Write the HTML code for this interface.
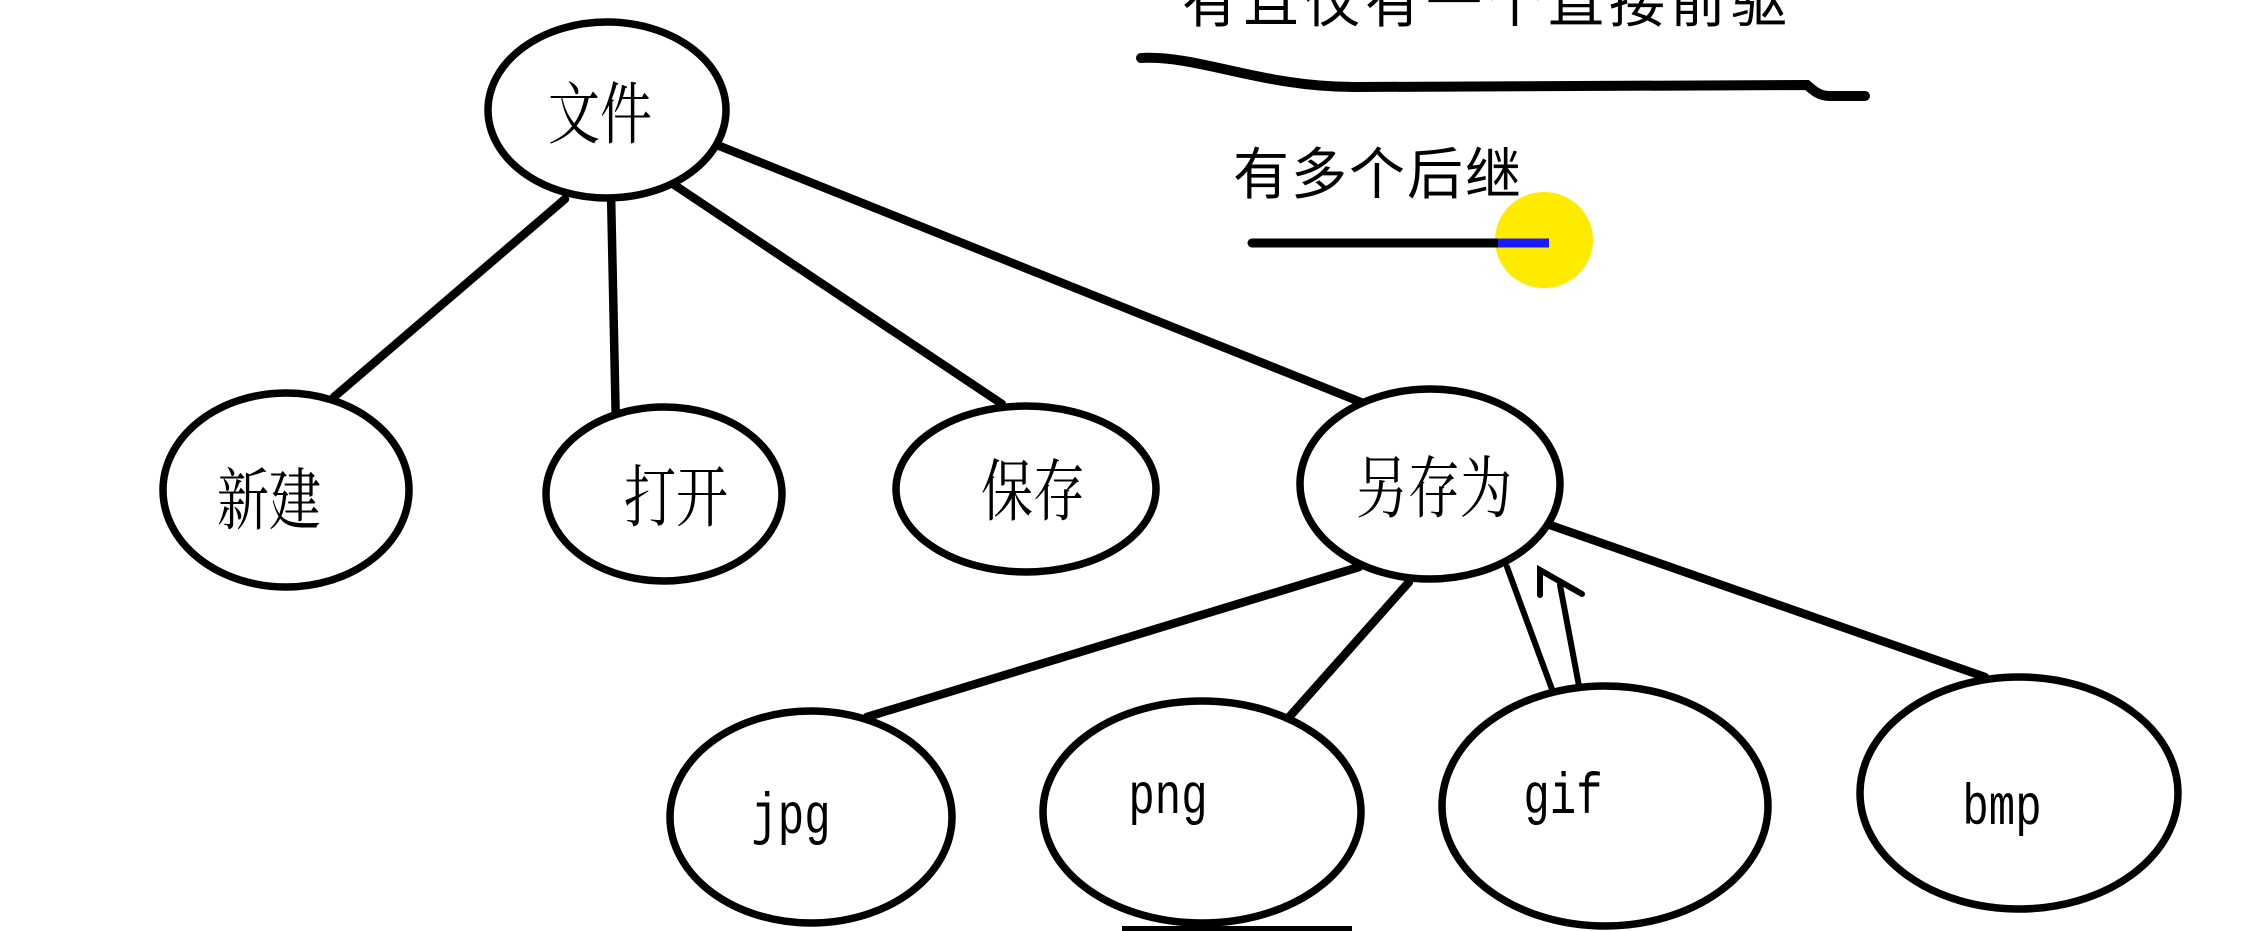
<!DOCTYPE html>
<html><head><meta charset="utf-8"><style>
html,body{margin:0;padding:0;background:#fff;}
svg{display:block;}
.cn{font-family:"Liberation Serif","Noto Serif CJK SC","Noto Sans CJK SC",serif;font-size:52px;fill:#000;text-anchor:middle;dominant-baseline:central;}
.en{font-family:"Liberation Mono",monospace;font-size:44px;fill:#000;text-anchor:middle;dominant-baseline:central;}
.top{font-family:"Liberation Sans","Noto Sans CJK SC",sans-serif;font-size:56px;fill:#000;}
</style></head><body>
<svg width="2255" height="931" viewBox="0 0 2255 931" xmlns="http://www.w3.org/2000/svg">
<rect width="2255" height="931" fill="#fff"/>
<g stroke="#000" stroke-width="8.5" fill="none" stroke-linecap="round">
<line x1="565" y1="199" x2="334" y2="397"/>
<line x1="611" y1="193" x2="616" y2="430"/>
<line x1="664" y1="178" x2="1002" y2="404"/>
<line x1="712" y1="143" x2="1373" y2="407"/>
<line x1="1359" y1="567" x2="867" y2="717"/>
<line x1="1409" y1="582" x2="1283" y2="724"/>
<line x1="1507" y1="567" x2="1553" y2="692" stroke-width="6"/>
<line x1="1560" y1="585" x2="1579" y2="686" stroke-width="6"/>
<polyline points="1540,595 1540,570 1582,594" stroke-width="6"/>
<line x1="1550" y1="525" x2="1985" y2="677"/>
</g>
<g stroke="#000" stroke-width="7.5" fill="#fff">
<ellipse cx="607" cy="110" rx="119" ry="88"/>
<ellipse cx="286" cy="490" rx="123" ry="97"/>
<ellipse cx="664" cy="494" rx="118" ry="87"/>
<ellipse cx="1026" cy="489" rx="130" ry="83"/>
<ellipse cx="1430" cy="484" rx="130" ry="95"/>
<ellipse cx="811" cy="817" rx="141" ry="106"/>
<ellipse cx="1202" cy="812" rx="159" ry="111"/>
<ellipse cx="1605" cy="806" rx="163" ry="120"/>
<ellipse cx="2019" cy="793" rx="159" ry="116"/>
</g>
<text class="cn" transform="translate(600,116) scale(1,1.3)">文件</text>
<text class="cn" transform="translate(269,502) scale(1,1.3)">新建</text>
<text class="cn" transform="translate(676,499) scale(1,1.3)">打开</text>
<text class="cn" transform="translate(1033,493) scale(1,1.3)">保存</text>
<text class="cn" transform="translate(1434,490) scale(1,1.3)">另存为</text>
<text class="en" transform="translate(791,819) scale(1,1.3)">jpg</text>
<text class="en" transform="translate(1168,799) scale(1,1.3)">png</text>
<text class="en" transform="translate(1563,799) scale(1,1.3)">gif</text>
<text class="en" transform="translate(2002,810) scale(1,1.3)">bmp</text>
<text class="top" x="1182" y="22" letter-spacing="5">有且仅有一个直接前驱</text>
<path d="M1141,58 C1200,55 1260,87 1355,87 L1807,85 C1815,92 1820,96 1830,96 L1865,96" stroke="#000" stroke-width="10" fill="none" stroke-linecap="round"/>
<text class="top" x="1233" y="194" letter-spacing="2">有多个后继</text>
<ellipse cx="1544" cy="240" rx="49" ry="48" fill="#ffeb00"/>
<line x1="1252" y1="243" x2="1500" y2="243" stroke="#000" stroke-width="9" stroke-linecap="round"/>
<line x1="1498" y1="243" x2="1549" y2="243" stroke="#1a1aff" stroke-width="9"/>
<rect x="1122" y="926" width="230" height="5" fill="#000"/>
</svg>
</body></html>
